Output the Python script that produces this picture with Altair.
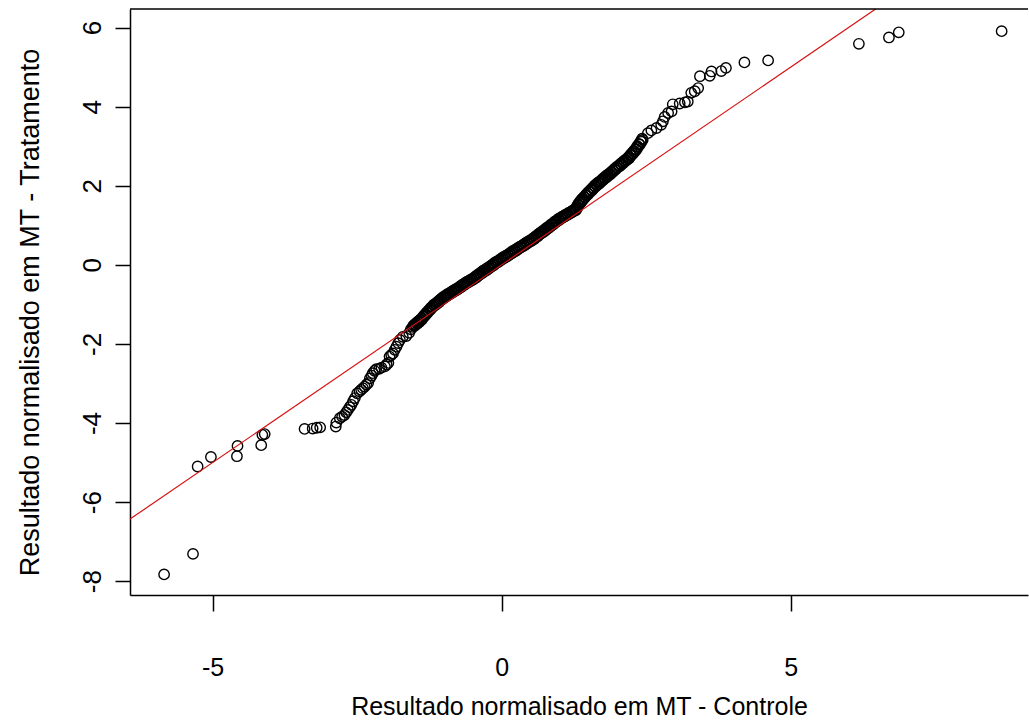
import altair as alt
import pandas as pd

# (controle, tratamento) pairs
LOWER_TAIL = [
    (-5.84, -7.83), (-5.34, -7.31), (-5.26, -5.10), (-5.03, -4.86), (-4.58, -4.84),
    (-4.57, -4.58), (-4.16, -4.56), (-4.14, -4.30), (-4.10, -4.28), (-3.41, -4.15),
    (-3.27, -4.14), (-3.20, -4.12), (-3.14, -4.11), (-2.87, -4.09), (-2.86, -3.99),
    (-2.80, -3.88), (-2.76, -3.84), (-2.72, -3.80), (-2.69, -3.73), (-2.66, -3.67),
    (-2.63, -3.60), (-2.60, -3.54), (-2.57, -3.45), (-2.54, -3.37), (-2.50, -3.25),
    (-2.46, -3.20), (-2.43, -3.16), (-2.40, -3.12), (-2.37, -3.08), (-2.34, -3.03),
    (-2.31, -2.99), (-2.28, -2.87), (-2.25, -2.80), (-2.23, -2.74), (-2.20, -2.68),
    (-2.17, -2.64), (-2.12, -2.63), (-2.08, -2.60), (-2.02, -2.57), (-1.99, -2.52),
    (-1.96, -2.48), (-1.94, -2.32), (-1.91, -2.28), (-1.88, -2.24), (-1.85, -2.15),
    (-1.82, -2.07), (-1.79, -1.98), (-1.76, -1.90), (-1.71, -1.82), (-1.65, -1.80),
    (-1.60, -1.72), (-1.57, -1.63),
]

CENTRE = [
    (-1.54, -1.57), (-1.51, -1.55), (-1.49, -1.52), (-1.46, -1.49), (-1.44, -1.46),
    (-1.42, -1.44), (-1.39, -1.40), (-1.37, -1.36), (-1.34, -1.31), (-1.31, -1.26),
    (-1.28, -1.21), (-1.26, -1.17), (-1.23, -1.13), (-1.21, -1.09), (-1.19, -1.06),
    (-1.16, -1.03), (-1.13, -1.00), (-1.11, -0.97), (-1.08, -0.94), (-1.05, -0.90),
    (-1.03, -0.87), (-1.00, -0.84), (-0.98, -0.82), (-0.96, -0.80),
    (-0.93, -0.77), (-0.91, -0.75), (-0.88, -0.73), (-0.85, -0.70), (-0.82, -0.67),
    (-0.80, -0.65), (-0.77, -0.63), (-0.75, -0.61), (-0.73, -0.59), (-0.70, -0.56),
    (-0.67, -0.53), (-0.64, -0.50), (-0.62, -0.48), (-0.59, -0.45), (-0.56, -0.43),
    (-0.53, -0.40), (-0.50, -0.38),
    (-0.47, -0.35), (-0.44, -0.32), (-0.42, -0.29), (-0.39, -0.26), (-0.36, -0.23),
    (-0.33, -0.20), (-0.31, -0.17), (-0.28, -0.15), (-0.26, -0.13), (-0.23, -0.10),
    (-0.20, -0.07), (-0.17, -0.04), (-0.14, -0.01), (-0.12, 0.02), (-0.09, 0.05),
    (-0.06, 0.07), (-0.03, 0.10),
    (0.00, 0.13), (0.03, 0.16), (0.06, 0.19), (0.09, 0.21), (0.12, 0.24),
    (0.15, 0.27), (0.18, 0.30), (0.21, 0.33), (0.24, 0.35), (0.27, 0.38),
    (0.30, 0.41), (0.33, 0.44), (0.36, 0.46), (0.39, 0.49), (0.42, 0.52),
    (0.45, 0.55), (0.48, 0.58), (0.51, 0.60), (0.54, 0.63),
    (0.57, 0.66), (0.60, 0.70), (0.63, 0.73), (0.66, 0.77), (0.69, 0.80),
    (0.72, 0.83), (0.75, 0.86), (0.78, 0.90), (0.81, 0.93), (0.84, 0.96),
    (0.87, 1.00), (0.90, 1.03), (0.93, 1.07), (0.96, 1.10), (1.00, 1.14),
    (1.03, 1.17), (1.06, 1.20), (1.09, 1.22), (1.12, 1.25), (1.15, 1.27),
    (1.18, 1.30), (1.21, 1.32), (1.24, 1.35), (1.27, 1.37), (1.29, 1.39),
    (1.31, 1.45), (1.33, 1.50), (1.35, 1.54), (1.37, 1.58), (1.39, 1.62),
    (1.41, 1.65), (1.44, 1.70), (1.47, 1.75), (1.50, 1.79), (1.53, 1.84),
    (1.56, 1.88), (1.59, 1.93), (1.62, 1.97), (1.65, 2.01), (1.68, 2.05),
    (1.70, 2.07), (1.73, 2.11), (1.76, 2.15), (1.79, 2.19), (1.82, 2.22),
    (1.85, 2.26), (1.88, 2.29), (1.91, 2.33), (1.94, 2.37), (1.97, 2.41),
    (2.00, 2.45), (2.04, 2.49), (2.07, 2.53), (2.10, 2.57), (2.13, 2.61),
    (2.16, 2.64), (2.19, 2.68), (2.21, 2.70), (2.24, 2.76), (2.27, 2.81),
    (2.30, 2.86), (2.33, 2.91), (2.36, 2.98), (2.39, 3.04), (2.42, 3.11),
    (2.44, 3.16),
]

# second, slightly higher track of the dense band (the band is thicker than one circle)
CENTRE_UPPER_EDGE = [
    (-1.525, -1.53), (-1.50, -1.50), (-1.475, -1.47), (-1.45, -1.44), (-1.43, -1.41),
    (-1.405, -1.38), (-1.38, -1.35), (-1.355, -1.30), (-1.325, -1.25), (-1.295, -1.20),
    (-1.27, -1.16), (-1.245, -1.12), (-1.22, -1.08), (-1.20, -1.05), (-1.175, -1.01),
    (-1.145, -0.98), (-1.12, -0.95), (-1.095, -0.92), (-1.065, -0.88), (-1.04, -0.85),
    (-1.015, -0.82), (-0.99, -0.80), (-0.97, -0.78), (-0.945, -0.75), (-0.92, -0.73),
    (-0.895, -0.71), (-0.865, -0.68), (-0.835, -0.65), (-0.81, -0.63), (-0.785, -0.61),
    (-0.76, -0.59), (-0.74, -0.57), (-0.715, -0.54), (-0.685, -0.51), (-0.655, -0.48),
    (-0.63, -0.46), (-0.605, -0.43), (-0.575, -0.41), (-0.545, -0.38), (-0.515, -0.36),
    (-0.485, -0.33), (-0.455, -0.30), (-0.43, -0.27), (-0.405, -0.24), (-0.375, -0.21),
    (-0.345, -0.18), (-0.32, -0.15), (-0.295, -0.13), (-0.27, -0.11), (-0.245, -0.08),
    (-0.215, -0.05), (-0.185, -0.02), (-0.155, 0.01), (-0.13, 0.04), (-0.105, 0.07),
    (-0.075, 0.09), (-0.045, 0.12), (-0.015, 0.15), (0.015, 0.18), (0.045, 0.21),
    (0.075, 0.23), (0.105, 0.26), (0.135, 0.29), (0.165, 0.32), (0.195, 0.35),
    (0.225, 0.37), (0.255, 0.40), (0.285, 0.43), (0.315, 0.46), (0.345, 0.48),
    (0.375, 0.51), (0.405, 0.54), (0.435, 0.57), (0.465, 0.60), (0.495, 0.62),
    (0.525, 0.65), (0.555, 0.68), (0.585, 0.72), (0.615, 0.75), (0.645, 0.79),
    (0.675, 0.82), (0.705, 0.85), (0.735, 0.88), (0.765, 0.92), (0.795, 0.95),
    (0.825, 0.98), (0.855, 1.02), (0.885, 1.05), (0.915, 1.09), (0.945, 1.12),
    (0.98, 1.16), (1.015, 1.19), (1.045, 1.22), (1.075, 1.24), (1.105, 1.27),
    (1.135, 1.29), (1.165, 1.32), (1.195, 1.34), (1.225, 1.37), (1.255, 1.39),
    (1.28, 1.42), (1.30, 1.48), (1.32, 1.53), (1.34, 1.57), (1.36, 1.61),
    (1.38, 1.65), (1.40, 1.68), (1.425, 1.72), (1.455, 1.77), (1.485, 1.82),
    (1.515, 1.86), (1.545, 1.91), (1.575, 1.95), (1.605, 2.00), (1.635, 2.04),
    (1.665, 2.08), (1.69, 2.10), (1.715, 2.13), (1.745, 2.17), (1.775, 2.21),
    (1.805, 2.25), (1.835, 2.28), (1.865, 2.31), (1.895, 2.35), (1.925, 2.39),
    (1.955, 2.43), (1.985, 2.47), (2.02, 2.51), (2.055, 2.55), (2.085, 2.59),
    (2.115, 2.63), (2.145, 2.66), (2.175, 2.70), (2.20, 2.73), (2.225, 2.78),
    (2.255, 2.83), (2.285, 2.88), (2.315, 2.93), (2.345, 3.00), (2.375, 3.06),
    (2.405, 3.13), (2.43, 3.19),
]

UPPER_TAIL = [
    (2.53, 3.33), (2.59, 3.40), (2.68, 3.46), (2.76, 3.54), (2.79, 3.63),
    (2.82, 3.74), (2.88, 3.84), (2.94, 3.88), (2.96, 4.06), (3.08, 4.08),
    (3.17, 4.11), (3.22, 4.13), (3.28, 4.35), (3.34, 4.39), (3.40, 4.47),
    (3.43, 4.77), (3.60, 4.78), (3.63, 4.89), (3.80, 4.90), (3.88, 4.98),
    (4.20, 5.12), (4.61, 5.17), (6.18, 5.59), (6.70, 5.75), (6.87, 5.88),
    (8.65, 5.91),
]

# reference line y = x (abline(0, 1)), from the left edge to the top edge
LINE_X = [-6.43, 6.47]
LINE_Y = [-6.43, 6.47]

X_TICKS = [-5, 0, 5]
Y_TICKS = [-8, -6, -4, -2, 0, 2, 4, 6]
X_DOMAIN = [-6.43, 9.106]
Y_DOMAIN = [-8.35, 6.47]

X_TITLE = "Resultado normalisado em MT - Controle"
Y_TITLE = "Resultado normalisado em MT - Tratamento"

W, H = 898, 586
FONT = "Liberation Sans"
LABEL_EXPR = "toString(datum.value)"  # plain hyphen minus, integers

pts = pd.DataFrame(LOWER_TAIL + CENTRE + CENTRE_UPPER_EDGE + UPPER_TAIL, columns=["x", "y"])
line_df = pd.DataFrame({"x": LINE_X, "y": LINE_Y})

x_enc = alt.X(
    "x:Q",
    scale=alt.Scale(domain=X_DOMAIN, nice=False, zero=False),
    axis=alt.Axis(
        values=X_TICKS, title=X_TITLE, grid=False, labelExpr=LABEL_EXPR,
        tickSize=16, tickWidth=1.5, tickColor="black",
        domainColor="black", domainWidth=1.5,
        labelFont=FONT, labelFontSize=25, labelColor="black",
        labelBaseline="alphabetic", labelPadding=64, labelFlush=False,
        titleFont=FONT, titleFontSize=25, titleFontWeight="normal", titleColor="black",
        titleBaseline="alphabetic", titleY=119, titleX=W / 2, titleAlign="center",
    ),
)
y_enc = alt.Y(
    "y:Q",
    scale=alt.Scale(domain=Y_DOMAIN, nice=False, zero=False),
    axis=alt.Axis(
        values=Y_TICKS, title=Y_TITLE, grid=False, labelExpr=LABEL_EXPR,
        tickSize=15, tickWidth=1.5, tickColor="black",
        domainColor="black", domainWidth=1.5,
        labelFont=FONT, labelFontSize=26, labelColor="black",
        labelAngle=270, labelAlign="center", labelBaseline="alphabetic",
        labelPadding=15, labelFlush=False,
        titleFont=FONT, titleFontSize=27, titleFontWeight="normal", titleColor="black",
        titleAngle=270, titleAlign="center", titleBaseline="alphabetic",
        titleX=-92, titleY=303,
    ),
)

points = alt.Chart(pts).mark_point(
    shape="circle", filled=False, size=108, stroke="black", strokeWidth=1.4, opacity=1
).encode(x=x_enc, y=y_enc)

ref_line = alt.Chart(line_df).mark_line(color="#d81010", strokeWidth=1.2).encode(
    x="x:Q", y="y:Q"
)

top_border = alt.Chart(pd.DataFrame({"k": [0]})).mark_rule(
    color="black", strokeWidth=1.5
).encode(x=alt.value(0), x2=alt.value(W), y=alt.value(0))

chart = (
    alt.layer(points, ref_line, top_border)
    .properties(
        width=W, height=H,
        autosize=alt.AutoSizeParams(type="none"),
        padding={"left": 130, "top": 9, "right": 1, "bottom": 125},
        background="white",
    )
    .configure_view(stroke=None)
)

chart.save("out.html", embed_options={"renderer": "svg", "actions": False})
